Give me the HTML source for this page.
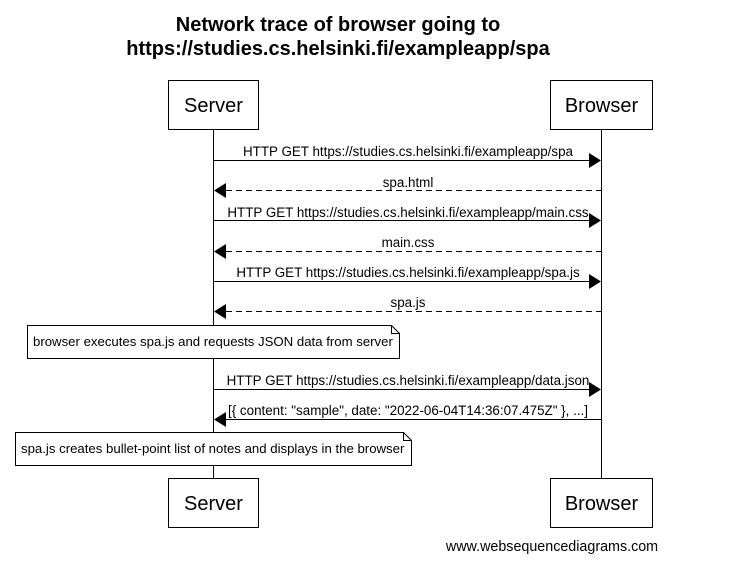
<!DOCTYPE html>
<html><head><style>
body{margin:0;background:#fff;}
svg text{font-family:"Liberation Sans",Arial,sans-serif;}
</style></head><body>
<svg width="747" height="573" viewBox="0 0 747 573" xmlns="http://www.w3.org/2000/svg">
<rect width="747" height="573" fill="#fff"/>
<text x="338" y="31" font-size="20" font-weight="bold" text-anchor="middle">Network trace of browser going to</text>
<text x="338" y="55" font-size="20" font-weight="bold" text-anchor="middle">https://studies.cs.helsinki.fi/exampleapp/spa</text>
<g stroke="#000" stroke-width="1">
<line x1="213.5" y1="129" x2="213.5" y2="478"/>
<line x1="601.5" y1="129" x2="601.5" y2="478"/>
</g>
<g fill="#fff" stroke="#000">
<rect x="168.5" y="80.5" width="90" height="49"/>
<rect x="550.5" y="80.5" width="102" height="49"/>
<rect x="168.5" y="478.5" width="90" height="49"/>
<rect x="550.5" y="478.5" width="102" height="49"/>
</g>
<g font-size="20" text-anchor="middle">
<text x="213.5" y="112">Server</text>
<text x="601.5" y="112">Browser</text>
<text x="213.5" y="510">Server</text>
<text x="601.5" y="510">Browser</text>
</g>
<g stroke="#000" stroke-width="1">
<line x1="213" y1="160.5" x2="590" y2="160.5"/>
<line x1="226" y1="190.5" x2="601" y2="190.5" stroke-dasharray="6,4"/>
<line x1="213" y1="220.5" x2="590" y2="220.5"/>
<line x1="226" y1="251.5" x2="601" y2="251.5" stroke-dasharray="6,4"/>
<line x1="213" y1="281.5" x2="590" y2="281.5"/>
<line x1="226" y1="311.5" x2="601" y2="311.5" stroke-dasharray="6,4"/>
<line x1="213" y1="389.5" x2="590" y2="389.5"/>
<line x1="226" y1="419.5" x2="601" y2="419.5"/>
</g>
<g fill="#000">
<polygon points="601,160.5 589,153 589,168"/>
<polygon points="214,190.5 226,183 226,198"/>
<polygon points="601,220.5 589,213 589,228"/>
<polygon points="214,251.5 226,244 226,259"/>
<polygon points="601,281.5 589,274 589,289"/>
<polygon points="214,311.5 226,304 226,319"/>
<polygon points="601,389.5 589,382 589,397"/>
<polygon points="214,419.5 226,412 226,427"/>
</g>
<g font-size="13.4" text-anchor="middle">
<text x="408" y="156">HTTP GET https://studies.cs.helsinki.fi/exampleapp/spa</text>
<text x="408" y="187">spa.html</text>
<text x="408" y="217">HTTP GET https://studies.cs.helsinki.fi/exampleapp/main.css</text>
<text x="408" y="247">main.css</text>
<text x="408" y="277">HTTP GET https://studies.cs.helsinki.fi/exampleapp/spa.js</text>
<text x="408" y="307">spa.js</text>
<text x="408" y="385">HTTP GET https://studies.cs.helsinki.fi/exampleapp/data.json</text>
<text x="408" y="415">[{ content: "sample", date: "2022-06-04T14:36:07.475Z" }, ...]</text>
</g>
<g fill="#fff" stroke="#000">
<polygon points="27.5,325.5 391.5,325.5 399.5,333.5 399.5,358.5 27.5,358.5"/>
<polyline points="391.5,325.5 391.5,333.5 399.5,333.5" fill="none"/>
<polygon points="15.5,432.5 403.5,432.5 411.5,440.5 411.5,465.5 15.5,465.5"/>
<polyline points="403.5,432.5 403.5,440.5 411.5,440.5" fill="none"/>
</g>
<g font-size="13.2">
<text x="33" y="346">browser executes spa.js and requests JSON data from server</text>
<text x="21" y="453">spa.js creates bullet-point list of notes and displays in the browser</text>
</g>
<text x="552" y="551" font-size="14.3" text-anchor="middle">www.websequencediagrams.com</text>
</svg>
</body></html>
